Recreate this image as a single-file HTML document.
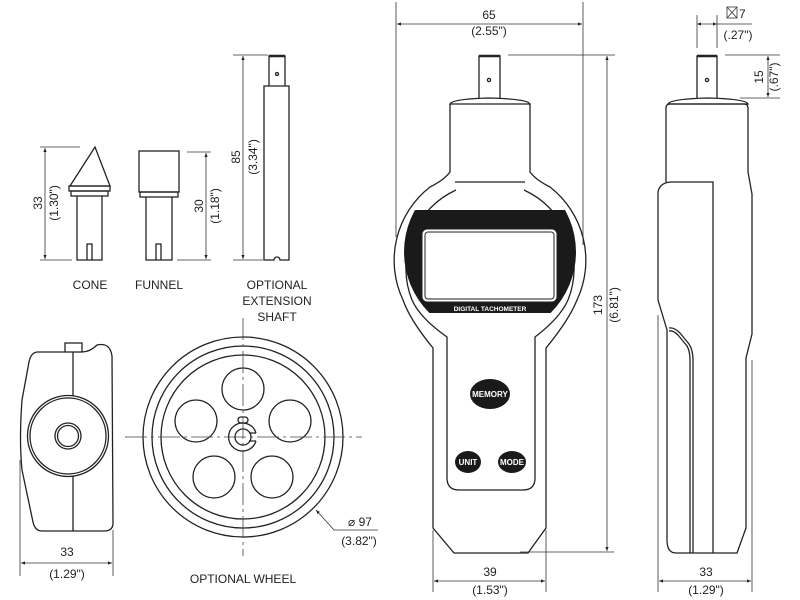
<!DOCTYPE html>
<html><head><meta charset="utf-8"><style>
html,body{margin:0;padding:0;background:#fff;width:800px;height:600px;overflow:hidden}
svg{display:block}
text{font-family:"Liberation Sans Narrow","Liberation Sans",sans-serif;font-size:12px;fill:#222}
</style></head><body>
<svg width="800" height="600" viewBox="0 0 800 600" xmlns="http://www.w3.org/2000/svg">
<defs>
<marker id="a" viewBox="0 0 10 10" refX="10" refY="5" markerWidth="5" markerHeight="5" orient="auto-start-reverse"><path d="M0,1 L10,5 L0,9z" fill="#222"/></marker>
<clipPath id="cp"><circle cx="490" cy="252" r="86"/></clipPath>
</defs>
<g stroke="#222" stroke-width="1.3" fill="none">
<path d="M95,147 L70,186 L110,186 Z" fill="#fff"/>
<rect x="69" y="186" width="41" height="5"/>
<rect x="71" y="191" width="37" height="5"/>
<path d="M77,196 V260 H102 V196"/>
<path d="M87,260 V244 H92 V260"/>
<rect x="139" y="151" width="40" height="41"/>
<rect x="140" y="192" width="38" height="5"/>
<path d="M146,197 V260 H172 V197"/>
<path d="M156,260 V244 H161 V260"/>
<path d="M269,86 V56 H285 V86" />
<line x1="269" y1="56" x2="285" y2="56" stroke-width="2.5"/>
<circle cx="277" cy="74" r="1.5"/>
<path d="M264,86 H289 V260 H280 A3,3 0 0 0 274,260 H264 Z"/>
</g>
<g stroke="#333" stroke-width="0.8" fill="none">
<line x1="40" y1="147" x2="80" y2="147"/><line x1="40" y1="260" x2="72" y2="260"/>
<line x1="45" y1="148" x2="45" y2="259" marker-start="url(#a)" marker-end="url(#a)"/>
<line x1="187" y1="152" x2="211" y2="152"/><line x1="177" y1="260" x2="211" y2="260"/>
<line x1="206" y1="153" x2="206" y2="259" marker-start="url(#a)" marker-end="url(#a)"/>
<line x1="233" y1="55" x2="268" y2="55"/><line x1="233" y1="260" x2="263" y2="260"/>
<line x1="243" y1="56" x2="243" y2="259" marker-start="url(#a)" marker-end="url(#a)"/>
</g>
<text transform="translate(42,203) rotate(-90)" text-anchor="middle">33</text>
<text transform="translate(58,203) rotate(-90)" text-anchor="middle">(1.30")</text>
<text transform="translate(203,206) rotate(-90)" text-anchor="middle">30</text>
<text transform="translate(219,206) rotate(-90)" text-anchor="middle">(1.18")</text>
<text transform="translate(240,157) rotate(-90)" text-anchor="middle">85</text>
<text transform="translate(257,157) rotate(-90)" text-anchor="middle">(3.34")</text>
<text x="90" y="289" text-anchor="middle">CONE</text>
<text x="159" y="289" text-anchor="middle">FUNNEL</text>
<text x="277" y="289" text-anchor="middle">OPTIONAL</text>
<text x="277" y="305" text-anchor="middle">EXTENSION</text>
<text x="277" y="321" text-anchor="middle">SHAFT</text>

<g stroke="#222" stroke-width="1.3" fill="none">
<path d="M65,352 H38 Q31,352 29,362 L22,400 Q19,440 22,470 L33,522 Q35,531 42,531 H104 Q113,531 113,523 L112,356 Q110,342 97,345 Q90,352 82,352"/>
<rect x="65" y="343" width="17" height="9"/>
<line x1="73" y1="352" x2="73" y2="396"/><line x1="73" y1="476" x2="73" y2="531"/>
<circle cx="68" cy="436" r="40.5" fill="#fff"/>
<circle cx="68" cy="436" r="38"/>
<circle cx="68" cy="436" r="13"/>
<circle cx="68" cy="436" r="10.5"/>
</g>
<g stroke="#333" stroke-width="0.8" fill="none">
<line x1="20" y1="460" x2="20" y2="576"/><line x1="113" y1="530" x2="113" y2="576"/>
<line x1="21" y1="563" x2="112" y2="563" marker-start="url(#a)" marker-end="url(#a)"/>
</g>
<text x="67" y="556" text-anchor="middle">33</text>
<text x="67" y="578" text-anchor="middle">(1.29")</text>

<g stroke="#222" stroke-width="1.3" fill="none">
<circle cx="243" cy="437" r="100"/>
<circle cx="243" cy="437" r="91"/>
<circle cx="243" cy="437" r="82"/>
<circle cx="243" cy="389" r="21"/>
<circle cx="196" cy="421" r="21"/>
<circle cx="290" cy="421" r="21"/>
<circle cx="214" cy="477" r="21"/>
<circle cx="272" cy="477" r="21"/>
<path d="M256,433 A14,14 0 1 0 256,441" fill="#fff"/>
<path d="M256,433 H249 M256,441 H249"/>
<circle cx="243" cy="437" r="8"/>
<rect x="238" y="417" width="10" height="6" rx="3"/>
</g>
<g stroke="#444" stroke-width="0.8" fill="none" stroke-dasharray="22,4,3,4">
<line x1="125" y1="437" x2="362" y2="437"/>
<line x1="243" y1="318" x2="243" y2="556"/>
</g>
<g stroke="#333" stroke-width="0.8" fill="none">
<line x1="334" y1="530" x2="316" y2="510" marker-end="url(#a)"/>
<line x1="334" y1="530" x2="378" y2="530"/>
</g>
<text x="360" y="526" text-anchor="middle">⌀ 97</text>
<text x="359" y="545" text-anchor="middle">(3.82")</text>
<text x="243" y="583" text-anchor="middle">OPTIONAL WHEEL</text>

<g stroke="#333" stroke-width="0.8" fill="none">
<line x1="396" y1="2" x2="396" y2="237"/><line x1="583" y1="2" x2="583" y2="245"/>
<line x1="397" y1="24" x2="582" y2="24" marker-start="url(#a)" marker-end="url(#a)"/>
<line x1="508" y1="55" x2="615" y2="55"/><line x1="520" y1="552" x2="614" y2="552"/>
<line x1="607" y1="56" x2="607" y2="551" marker-start="url(#a)" marker-end="url(#a)"/>
<line x1="433" y1="530" x2="433" y2="592"/><line x1="546" y1="530" x2="546" y2="592"/>
<line x1="434" y1="581" x2="545" y2="581" marker-start="url(#a)" marker-end="url(#a)"/>
</g>
<text x="489" y="19" text-anchor="middle">65</text>
<text x="489" y="35" text-anchor="middle">(2.55")</text>
<text transform="translate(602,305) rotate(-90)" text-anchor="middle">173</text>
<text transform="translate(618,305) rotate(-90)" text-anchor="middle">(6.81")</text>
<text x="490" y="576" text-anchor="middle">39</text>
<text x="490" y="594" text-anchor="middle">(1.53")</text>
<g stroke="#222" stroke-width="1.3" fill="none">
<path d="M479,99 V56 H500 V99"/>
<line x1="479" y1="56" x2="500" y2="56" stroke-width="2.5"/>
<circle cx="489" cy="80" r="1.6"/>
<path d="M450,104 Q452,99 489,98 Q528,99 530,104 Z"/>
<path d="M450,104 V172 Q444,180 430,187 A93,93 0 0 0 403,300 Q410,320 433,348 V528 L454,553 H528 L546,528 V348 Q569,320 577,300 A93,93 0 0 0 550,187 Q536,180 530,172 V104"/>
<line x1="455" y1="182" x2="525" y2="182"/>
<path d="M456,190 A86,86 0 0 0 412,300 Q420,318 447,337 V478 Q447,490 459,490 H523 Q535,490 535,478 V337 Q560,318 568,300 A86,86 0 0 0 524,190"/>
</g>
<rect x="400" y="210" width="180" height="103" fill="#1a1a1a" clip-path="url(#cp)"/>
<rect x="422" y="229" width="135" height="73" rx="5" fill="#fff" stroke="#222" stroke-width="1"/>
<rect x="425" y="232" width="129" height="67" rx="3" fill="none" stroke="#222" stroke-width="1"/>
<text x="490" y="311" text-anchor="middle" style="font-family:'Liberation Sans',sans-serif;font-size:6.5px;font-weight:bold;fill:#fff">DIGITAL TACHOMETER</text>
<ellipse cx="490" cy="394" rx="20" ry="15" fill="#1a1a1a"/>
<ellipse cx="468" cy="462" rx="13" ry="11" fill="#1a1a1a"/>
<ellipse cx="512" cy="462" rx="14" ry="11" fill="#1a1a1a"/>
<text x="490" y="397" text-anchor="middle" style="font-size:8px;font-weight:bold;fill:#fff">MEMORY</text>
<text x="468" y="465" text-anchor="middle" style="font-size:8px;font-weight:bold;fill:#fff">UNIT</text>
<text x="512" y="465" text-anchor="middle" style="font-size:8px;font-weight:bold;fill:#fff">MODE</text>

<g stroke="#333" stroke-width="0.8" fill="none">
<line x1="697" y1="15" x2="697" y2="48"/><line x1="717" y1="15" x2="717" y2="48"/>
<line x1="697" y1="24" x2="717" y2="24" marker-start="url(#a)" marker-end="url(#a)"/>
<line x1="717" y1="24" x2="752" y2="24"/>
<line x1="725" y1="55" x2="780" y2="55"/><line x1="740" y1="98" x2="780" y2="98"/>
<line x1="768" y1="56" x2="768" y2="97" marker-start="url(#a)" marker-end="url(#a)"/>
<line x1="658" y1="315" x2="658" y2="592"/><line x1="752" y1="360" x2="752" y2="592"/>
<line x1="659" y1="581" x2="751" y2="581" marker-start="url(#a)" marker-end="url(#a)"/>
<rect x="727" y="7" width="10" height="11"/>
<path d="M727,7 L737,18 M737,7 L727,18"/>
</g>
<text x="739" y="18">7</text>
<text x="738" y="39" text-anchor="middle">(.27")</text>
<text transform="translate(763,77) rotate(-90)" text-anchor="middle">15</text>
<text transform="translate(778,77) rotate(-90)" text-anchor="middle">(.67")</text>
<text x="706" y="576" text-anchor="middle">33</text>
<text x="706" y="594" text-anchor="middle">(1.29")</text>
<g stroke="#222" stroke-width="1.3" fill="none">
<path d="M697,98 V56 H717 V98"/>
<line x1="697" y1="56" x2="717" y2="56" stroke-width="2.5"/>
<circle cx="707" cy="80" r="1.6"/>
<path d="M668,104 Q670,99 708,98 Q746,99 748,104 Z"/>
<path d="M666,182 V108 Q666,104 670,104 H744 Q748,104 748,108 V172 L752,194 V334 L746,358 V528 L737,553 H676 Q667,553 667,540 V330 L658,300 V192 Q660,182 672,182 H713 V553"/>
<path d="M669,328 Q674,327 680,333 L689,344 Q693,350 693,360 V553"/>
<path d="M669,331 Q673,330 678,335 L687,346 Q690,351 690,360 V553"/>
</g>
</svg>
</body></html>
